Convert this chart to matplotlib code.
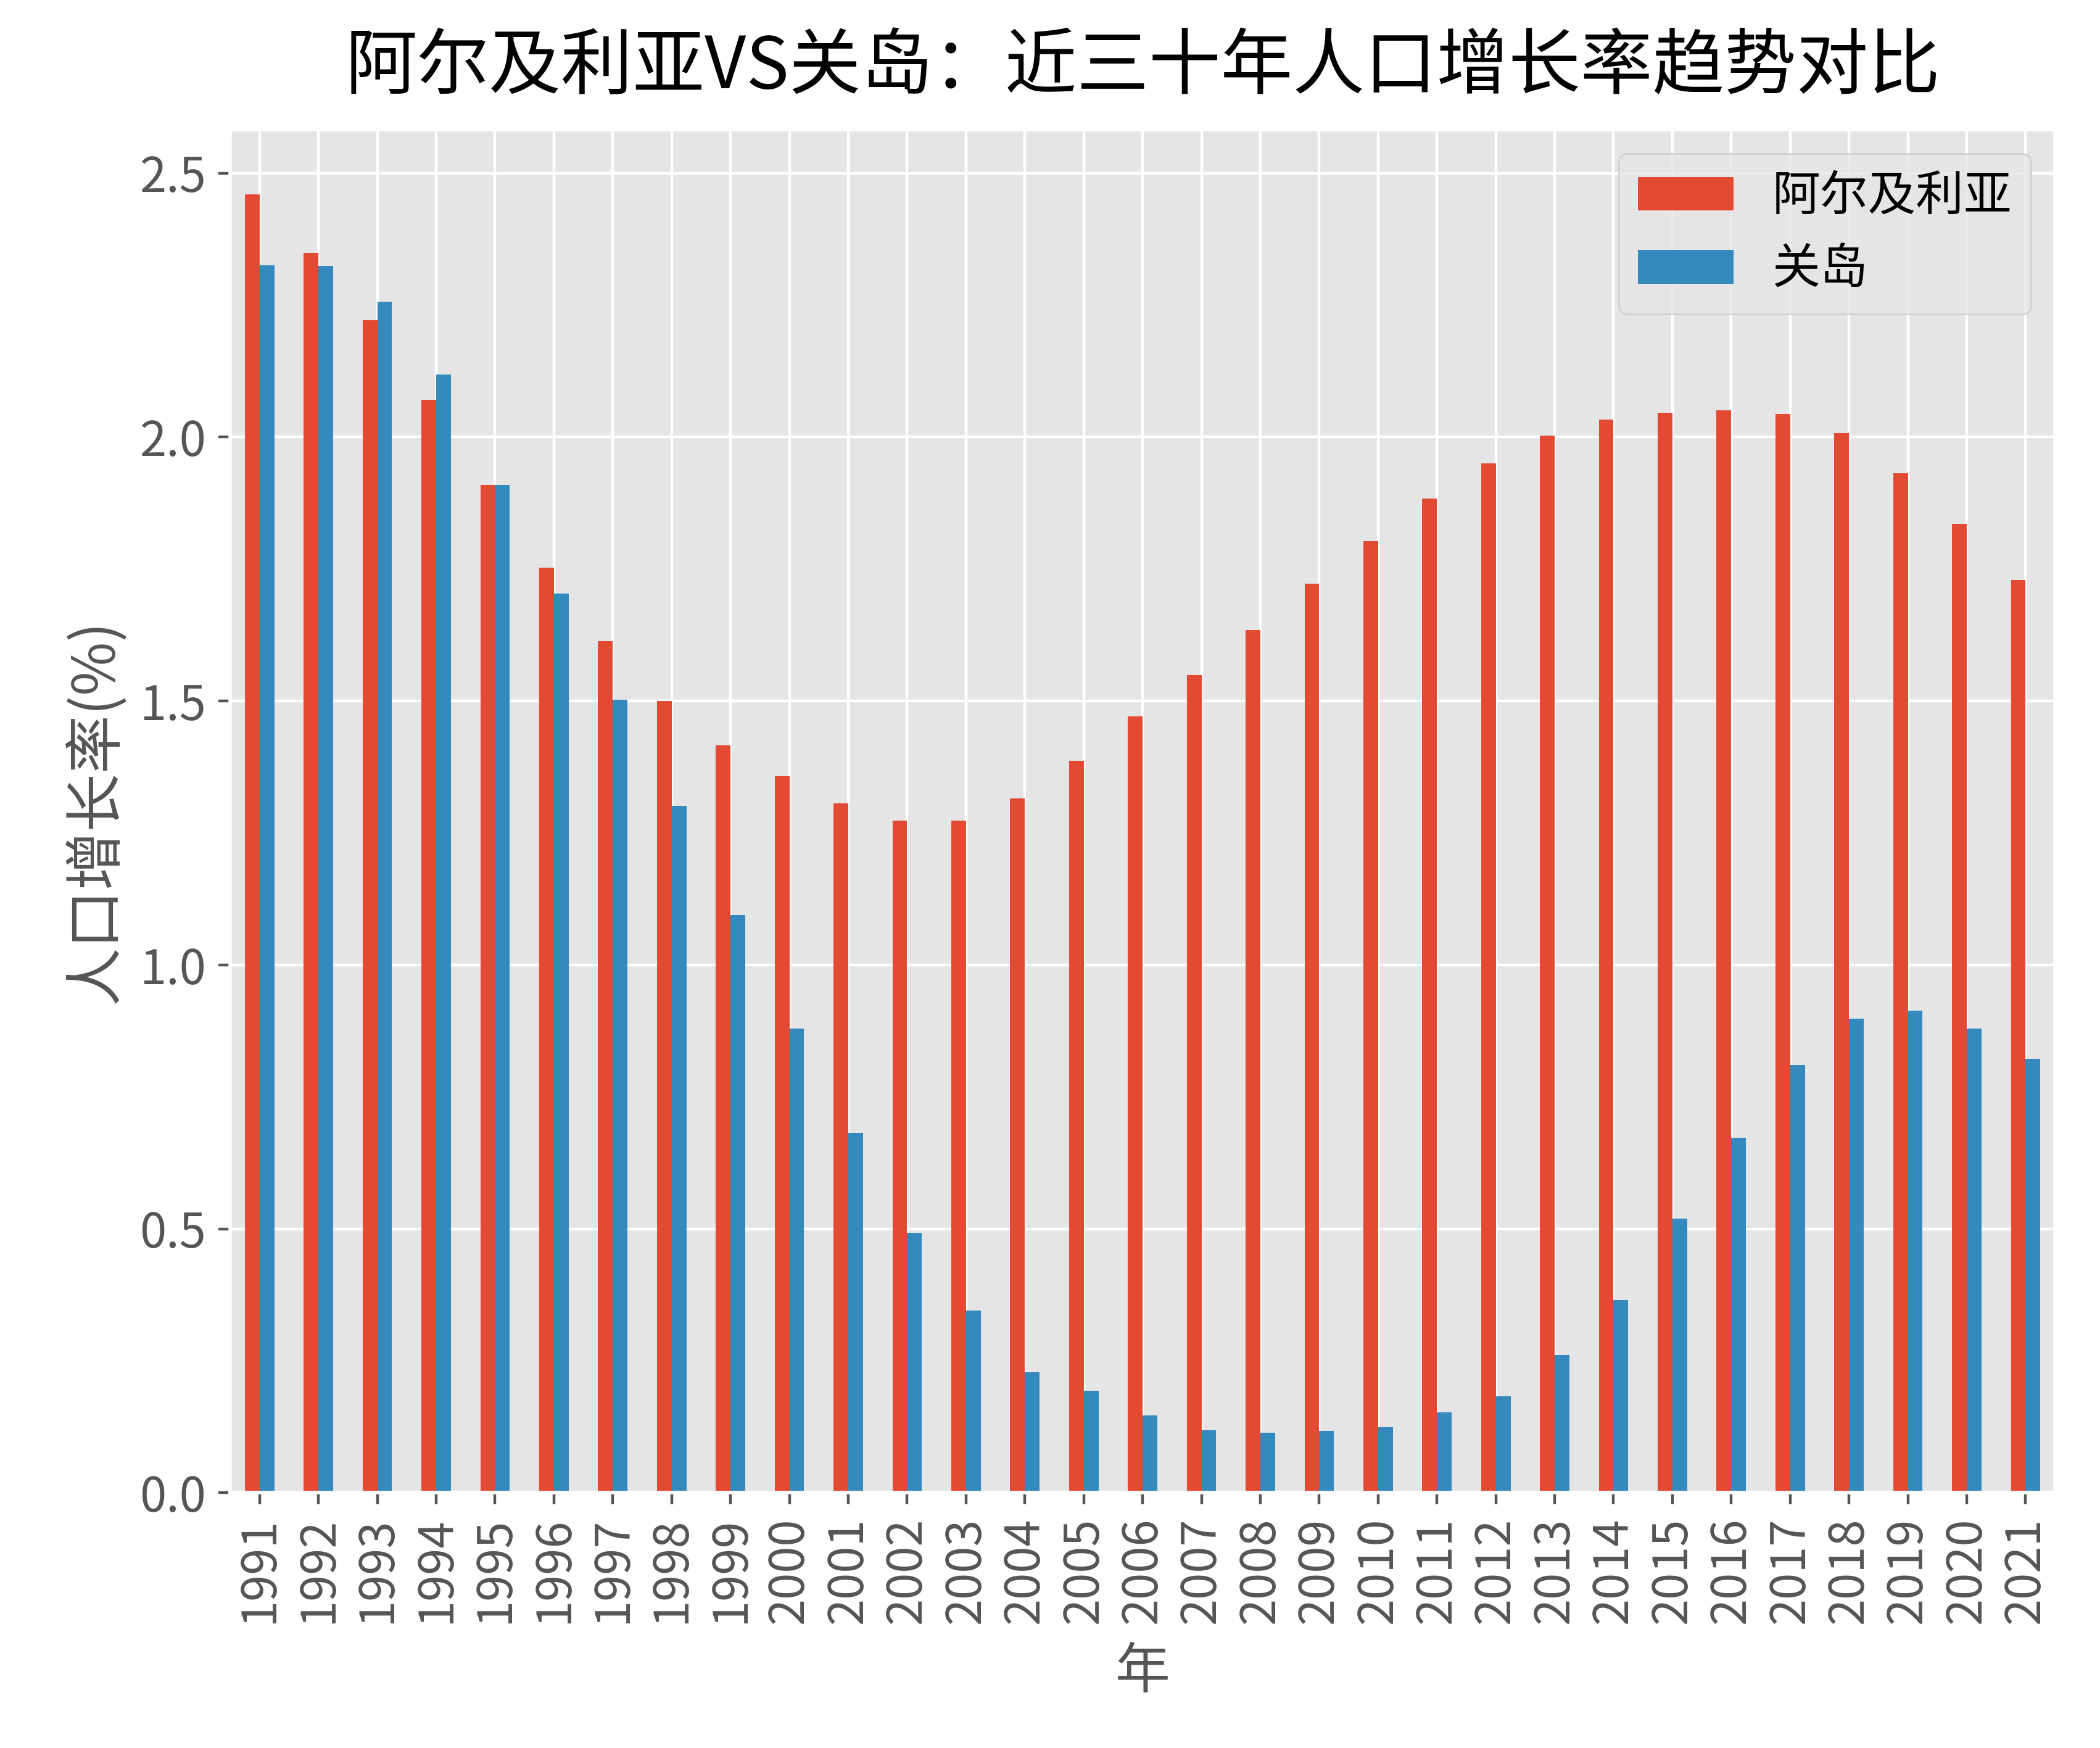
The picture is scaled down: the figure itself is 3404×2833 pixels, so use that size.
import numpy as np
import matplotlib
matplotlib.use("Agg")
import matplotlib.pyplot as plt

years = list(range(1991, 2022))
algeria = [2.460, 2.349, 2.221, 2.071, 1.909, 1.753, 1.614, 1.500, 1.416, 1.358,
           1.306, 1.273, 1.273, 1.316, 1.387, 1.471, 1.549, 1.635, 1.722, 1.803,
           1.884, 1.950, 2.003, 2.033, 2.046, 2.051, 2.044, 2.008, 1.932, 1.836,
           1.729]
guam = [2.326, 2.324, 2.256, 2.118, 1.909, 1.704, 1.503, 1.302, 1.095, 0.880,
        0.682, 0.492, 0.345, 0.228, 0.193, 0.147, 0.119, 0.114, 0.117, 0.124,
        0.152, 0.183, 0.261, 0.365, 0.520, 0.672, 0.811, 0.898, 0.913, 0.880,
        0.822]
series_names = ["阿尔及利亚", "关岛"]
title = "阿尔及利亚VS关岛：近三十年人口增长率趋势对比"
xlabel = "年"
ylabel = "人口增长率(%)"

plt.style.use("ggplot")
plt.rcParams['font.family'] = ['Noto Sans CJK SC', 'DejaVu Sans']
plt.rcParams['axes.unicode_minus'] = False

dpi = 400
fig = plt.figure(figsize=(3404 / dpi, 2833 / dpi), dpi=dpi)
ax = fig.add_axes([0.1096, 0.146, 0.9786 - 0.1096, 0.926 - 0.146])

x = np.arange(len(years))
w = 0.25
ax.bar(x - w / 2, algeria, width=w, color="#E24A33", label=series_names[0])
ax.bar(x + w / 2, guam, width=w, color="#348ABD", label=series_names[1])

ax.set_xlim(-0.5, len(years) - 0.5)
ax.set_xticks(x)
ax.set_xticklabels([str(y) for y in years], rotation=90)
ax.tick_params(axis='both', labelsize=14)
ax.set_yticks([0.0, 0.5, 1.0, 1.5, 2.0, 2.5])
ax.set_yticklabels(["0.0", "0.5", "1.0", "1.5", "2.0", "2.5"])

ax.set_title(title, fontsize=21, color="black", pad=12, fontweight="medium")
ax.set_xlabel(xlabel, fontsize=16, labelpad=6)
ax.set_ylabel(ylabel, fontsize=17)
ax.legend(fontsize=14, loc="upper right")

fig.savefig("out.png", dpi=dpi)
